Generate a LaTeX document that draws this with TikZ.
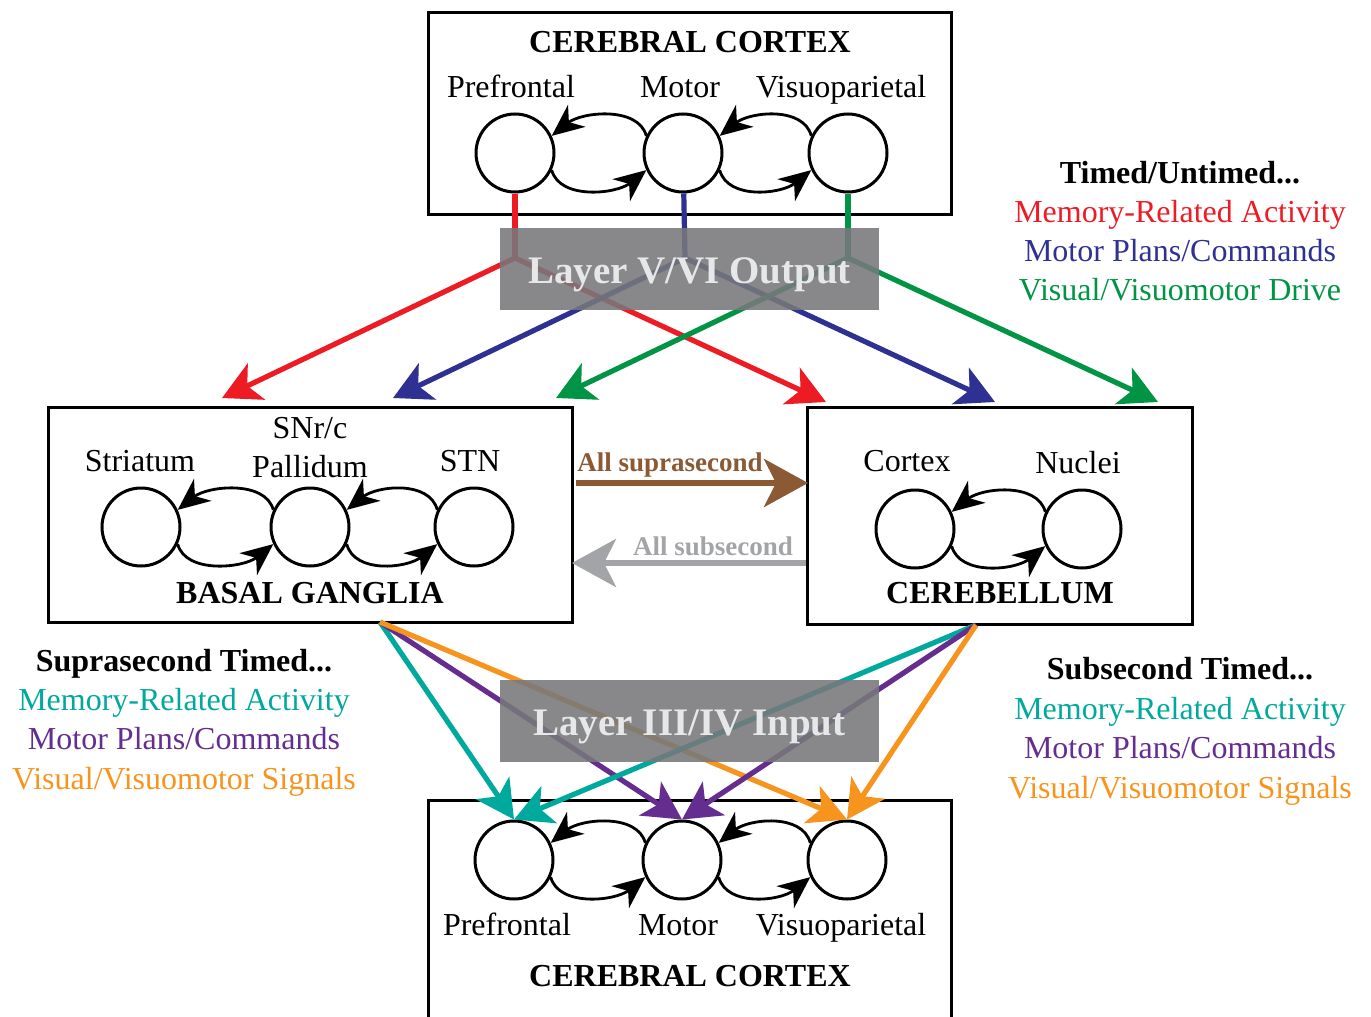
\documentclass[tikz,border=0pt]{standalone}
\usepackage{fontspec}
\setmainfont{Liberation Serif}
\usetikzlibrary{arrows.meta,positioning}

\definecolor{ctxred}{HTML}{ED1C24}
\definecolor{ctxblue}{HTML}{2E3192}
\definecolor{ctxgreen}{HTML}{009444}
\definecolor{inteal}{HTML}{00A99D}
\definecolor{inpurple}{HTML}{662D91}
\definecolor{inorange}{HTML}{F7941D}
\definecolor{suprabrown}{HTML}{8B5A34}
\definecolor{subgray}{HTML}{A2A4A7}
\definecolor{layergray}{HTML}{77787B}
\definecolor{layertext}{HTML}{E6E7E8}

\tikzset{
  region/.style={draw=black,line width=1.5pt,rectangle,inner sep=0pt},
  cell/.style={draw=black,line width=1.5pt,circle,minimum size=39pt,inner sep=0pt},
  lbl/.style={anchor=base,inner sep=0pt,font=\fontsize{16}{19}\selectfont},
  ttl/.style={anchor=base,inner sep=0pt,font=\fontsize{16}{19}\selectfont\bfseries},
  proj/.style={line width=2.6pt,-{Stealth[length=19pt,width=20pt,inset=5pt]}},
  timing/.style={line width=3pt,-{Stealth[length=22pt,width=24pt,inset=6pt]}},
  loopline/.style={line width=1.4pt,-{Stealth[length=16pt,width=14pt,inset=5pt]}},
  layer/.style={rectangle,fill=layergray,fill opacity=0.88,minimum width=189.5pt,minimum height=41pt,inner sep=0pt},
  layername/.style={anchor=base,inner sep=0pt,text=layertext,font=\fontsize{19.5}{22}\selectfont\bfseries}
}

% reciprocal loop between two neighbouring circles
\newcommand{\cloop}[2]{%
  \draw[loopline] (#2.155) .. controls +(-8,-30) and +(30,-24) .. (#1.25);
  \draw[loopline] (#1.-25) .. controls +(8,30) and +(-30,24) .. (#2.205);
}

\begin{document}
\begin{tikzpicture}[x=0.5pt,y=-0.5pt]
\useasboundingbox (0,0) rectangle (1371,1017);

% cerebral cortex, output side
\node[region,minimum width=261.5pt,minimum height=101pt] (ctxtop) at (689.5,113) {};
\node[ttl] (ctxtopname) at (690,52) {CEREBRAL CORTEX};
\node[lbl] (pfname) at (511,97) {Prefrontal};
\node[lbl] (moname) at (680,97) {Motor};
\node[lbl] (vpname) at (841,97) {Visuoparietal};
\node[cell] (pf) at (515,153) {};
\node[cell] (mo) at (683,153) {};
\node[cell] (vp) at (848,153) {};
\cloop{pf}{mo}
\cloop{mo}{vp}

% basal ganglia
\node[region,minimum width=262pt,minimum height=107.5pt] (bg) at (310,514.5) {};
\node[lbl] (strname) at (140,471) {Striatum};
\node[lbl] (snrname) at (310,438) {SNr/c};
\node[lbl] (palname) at (310,477) {Pallidum};
\node[lbl] (stnname) at (470,471) {STN};
\node[cell] (str) at (141,527) {};
\node[cell] (pal) at (310,527) {};
\node[cell] (stn) at (474,527) {};
\cloop{str}{pal}
\cloop{pal}{stn}
\node[ttl] (bgname) at (310,603) {BASAL GANGLIA};

% cerebellum
\node[region,minimum width=192.5pt,minimum height=108.5pt] (cb) at (999.5,515.5) {};
\node[lbl] (cbxname) at (907,471) {Cortex};
\node[lbl] (nucname) at (1078,473) {Nuclei};
\node[cell] (cbx) at (915,529) {};
\node[cell] (nuc) at (1082,529) {};
\cloop{cbx}{nuc}
\node[ttl] (cbname) at (1000,603) {CEREBELLUM};

% cerebral cortex, input side
\node[region,minimum width=261.5pt,minimum height=115pt] (ctxbot) at (689.5,915) {};
\node[cell] (pfb) at (514,860) {};
\node[cell] (mob) at (682,860) {};
\node[cell] (vpb) at (847,860) {};
\cloop{pfb}{mob}
\cloop{mob}{vpb}
\node[lbl] (pfbname) at (507,935) {Prefrontal};
\node[lbl] (mobname) at (678,935) {Motor};
\node[lbl] (vpbname) at (841,935) {Visuoparietal};
\node[ttl] (ctxbotname) at (690,986) {CEREBRAL CORTEX};

% layer V/VI projections
\coordinate (pfout) at (515,258);
\coordinate (moout) at (685,258);
\coordinate (vpout) at (848,258);
\coordinate (bgred) at (222,398);
\coordinate (bgblue) at (393,398);
\coordinate (bggreen) at (556,398);
\coordinate (cbred) at (826,402);
\coordinate (cbblue) at (995,402);
\coordinate (cbgreen) at (1158,402);
\draw[ctxred,line width=2.6pt] (pf) -- (pfout);
\draw[ctxblue,line width=2.6pt] (mo) -- (moout);
\draw[ctxgreen,line width=2.6pt] (vp) -- (vpout);
\draw[proj,ctxred] (pfout) -- (bgred);
\draw[proj,ctxred] (pfout) -- (cbred);
\draw[proj,ctxblue] (moout) -- (bgblue);
\draw[proj,ctxblue] (moout) -- (cbblue);
\draw[proj,ctxgreen] (vpout) -- (bggreen);
\draw[proj,ctxgreen] (vpout) -- (cbgreen);

% layer III/IV projections
\coordinate (bgout) at (380,622);
\coordinate (cbout) at (976,625);
\draw[proj,inteal] (bgout) -- (pfb.north);
\draw[proj,inpurple] (bgout) -- (mob.north);
\draw[proj,inorange] (bgout) -- (vpb.north);
\draw[proj,inteal] (cbout) -- (pfb.north);
\draw[proj,inpurple] (cbout) -- (mob.north);
\draw[proj,inorange] (cbout) -- (vpb.north);

\node[layer] (outlayer) at (689.5,269) {};
\node[layername] (outname) at (689.5,283) {Layer V/VI Output};
\node[layer] (inlayer) at (689.5,721) {};
\node[layername] (inname) at (689.5,735) {Layer III/IV Input};

% basal ganglia <-> cerebellum
\coordinate (supA) at (576,483);
\coordinate (supB) at (808,483);
\coordinate (subA) at (806,563);
\coordinate (subB) at (572,563);
\draw[timing,suprabrown] (supA) -- (supB);
\draw[timing,subgray] (subA) -- (subB);
\node[anchor=base,inner sep=0pt,text=suprabrown,font=\fontsize{13.5}{16}\selectfont\bfseries] (supname) at (670,471) {All suprasecond};
\node[anchor=base,inner sep=0pt,text=subgray,font=\fontsize{13.5}{16}\selectfont\bfseries] (subname) at (713,555) {All subsecond};

% legends
\node[ttl] (untimed) at (1180,183) {Timed/Untimed...};
\node[lbl,text=ctxred] (untimedA) at (1180,222) {Memory-Related Activity};
\node[lbl,text=ctxblue] (untimedB) at (1180,261) {Motor Plans/Commands};
\node[lbl,text=ctxgreen] (untimedC) at (1180,300) {Visual/Visuomotor Drive};

\node[ttl] (supra) at (184,671) {Suprasecond Timed...};
\node[lbl,text=inteal] (supraA) at (184,710) {Memory-Related Activity};
\node[lbl,text=inpurple] (supraB) at (184,749) {Motor Plans/Commands};
\node[lbl,text=inorange] (supraC) at (184,789) {Visual/Visuomotor Signals};

\node[ttl] (subsec) at (1180,679) {Subsecond Timed...};
\node[lbl,text=inteal] (subsecA) at (1180,719) {Memory-Related Activity};
\node[lbl,text=inpurple] (subsecB) at (1180,758) {Motor Plans/Commands};
\node[lbl,text=inorange] (subsecC) at (1180,798) {Visual/Visuomotor Signals};
\end{tikzpicture}
\end{document}
